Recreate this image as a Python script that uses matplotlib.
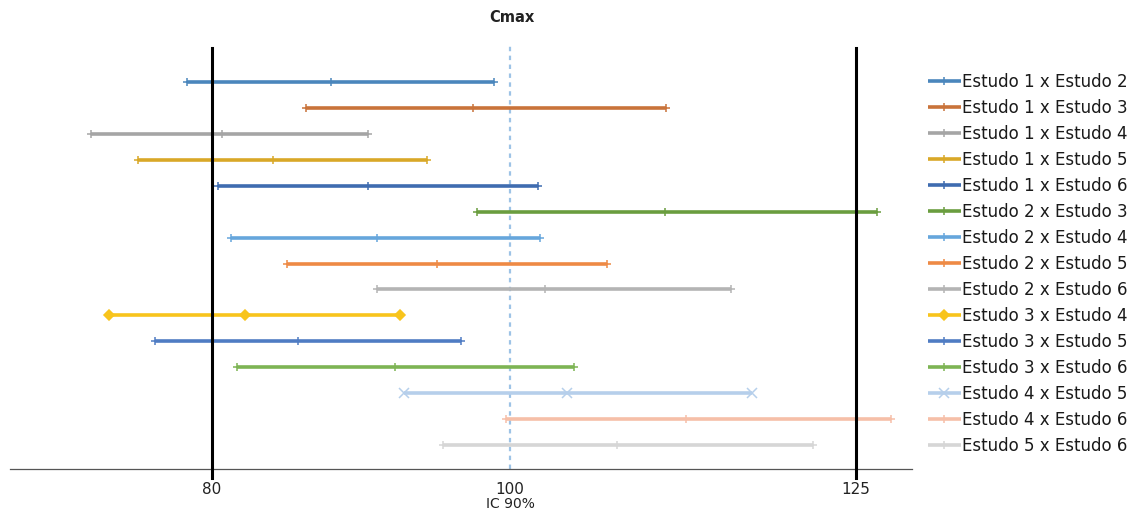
import numpy as np
import matplotlib
matplotlib.use("Agg")
import matplotlib.pyplot as plt

labels = ["Estudo 1 x Estudo 2", "Estudo 1 x Estudo 3", "Estudo 1 x Estudo 4",
          "Estudo 1 x Estudo 5", "Estudo 1 x Estudo 6", "Estudo 2 x Estudo 3",
          "Estudo 2 x Estudo 4", "Estudo 2 x Estudo 5", "Estudo 2 x Estudo 6",
          "Estudo 3 x Estudo 4", "Estudo 3 x Estudo 5", "Estudo 3 x Estudo 6",
          "Estudo 4 x Estudo 5", "Estudo 4 x Estudo 6", "Estudo 5 x Estudo 6"]
lower = [78.3, 86.3, 71.9, 75.0, 80.4, 97.8, 81.3, 85.0, 91.1, 73.1, 76.2, 81.7, 92.9, 99.7, 95.5]
point = [88.0, 97.5, 80.7, 84.1, 90.5, 111.2, 91.1, 95.1, 102.5, 82.2, 85.8, 92.3, 104.1, 112.7, 107.7]
upper = [98.9, 111.3, 90.5, 94.4, 102.0, 126.5, 102.2, 107.0, 116.0, 92.6, 96.7, 104.6, 117.5, 127.5, 121.9]
colors = ["#4A86BC", "#C9733A", "#A5A5A5", "#D9A827", "#3F6CB0", "#6A9D3F",
          "#66A6DC", "#EE8A45", "#B4B4B4", "#F8C41C", "#4F7CC3", "#7DB454",
          "#B6CFEB", "#F6BFA8", "#D6D6D6"]
markers = ["+"] * 9 + ["D", "+", "+", "x", "+", "+"]
xticks = [80, 100, 125]
limits = [80, 125]
reference = 100


def fwd(x):
    x = np.asarray(x, dtype=float)
    return np.where(x < 100, 510 + (x - 100) * 14.9, 510 + (x - 100) * 13.84)


def inv(p):
    p = np.asarray(p, dtype=float)
    return np.where(p < 510, 100 + (p - 510) / 14.9, 100 + (p - 510) / 13.84)


fig = plt.figure(figsize=(11.47, 5.12), dpi=100)
ax = fig.add_axes([10 / 1147, 43 / 512, (912 - 10) / 1147, (469 - 43) / 512])
ax.set_xscale("function", functions=(fwd, inv))
ax.set_xlim(66.44, 129.05)
ax.set_ylim(14.925, -1.504)

for i, lab in enumerate(labels):
    m = markers[i]
    ms = {"D": 5, "x": 7}.get(m, 6)
    ax.plot([lower[i], point[i], upper[i]], [i, i, i], color=colors[i], lw=2.6,
            marker=m, ms=ms, mew=1.1, label=lab, solid_capstyle="butt")

for v in limits:
    ax.axvline(v, color="black", lw=2.2, ymin=-0.02, ymax=0.988, clip_on=False, zorder=3)
ax.axvline(reference, color="#9DC3E6", lw=1.6, ls=(0, (2, 2)), zorder=1)

ax.set_xticks(xticks)
ax.set_xticklabels([str(t) for t in xticks])
ax.tick_params(axis="x", length=0, labelsize=11, colors="#222222", pad=9)
ax.set_yticks([])
for s in ["top", "right", "left"]:
    ax.spines[s].set_visible(False)
ax.spines["bottom"].set_color("#555555")
ax.spines["bottom"].set_linewidth(0.9)
ax.set_xlabel("IC 90%", fontsize=10, color="#222222", labelpad=1)
ax.xaxis.set_label_coords((510 - 10) / 902, -0.065)

leg = fig.legend(loc="upper left", bbox_to_anchor=(928 / 1147, 1 - 73 / 512), frameon=False,
                 fontsize=12, handlelength=1.95, handletextpad=0.12,
                 labelspacing=0.48, borderaxespad=0.0, borderpad=0.0)
for t in leg.get_texts():
    t.set_color("#1a1a1a")

fig.text(512 / 1147, 1 - 18 / 512, "Cmax", ha="center", va="center",
         fontsize=10.5, fontweight="bold", color="#222222")

fig.savefig("out.png", dpi=100)
